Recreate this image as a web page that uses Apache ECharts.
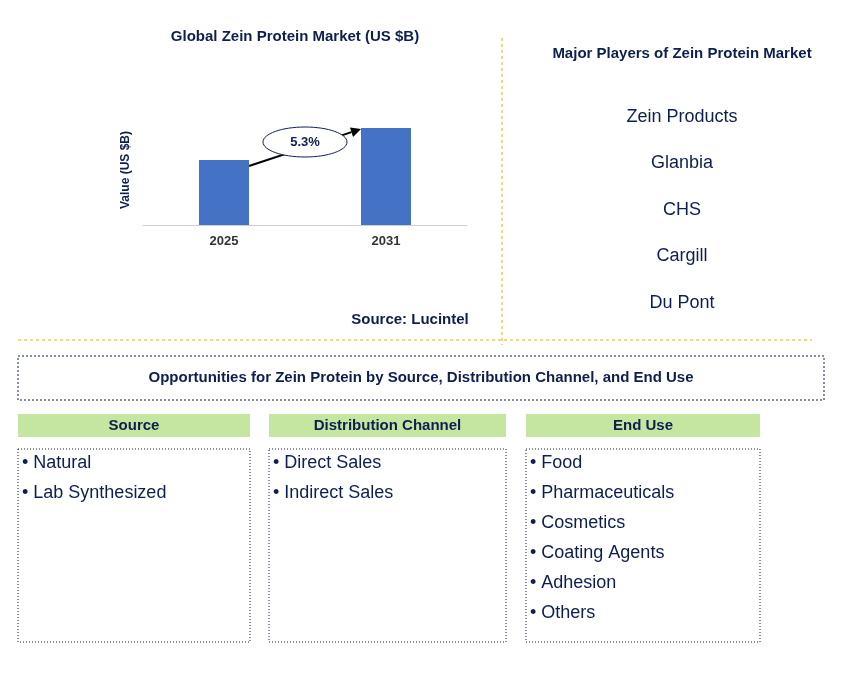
<!DOCTYPE html>
<html><head><meta charset="utf-8">
<script src="https://cdn.jsdelivr.net/npm/echarts@6/dist/echarts.min.js"></script>
<style>html,body{margin:0;padding:0;background:#fff}#c{width:853px;height:675px}</style>
</head><body><div id="c"></div>
<script>
const years = ['2025', '2031'];
const values = [0.65, 0.97];
const cagrLabel = '5.3%';
const players = ['Zein Products', 'Glanbia', 'CHS', 'Cargill', 'Du Pont'];
const sourceItems = ['Natural', 'Lab Synthesized'];
const channelItems = ['Direct Sales', 'Indirect Sales'];
const endUseItems = ['Food', 'Pharmaceuticals', 'Cosmetics', 'Coating Agents', 'Adhesion', 'Others'];

const F = 'Liberation Sans, Arial, sans-serif';
const navy = '#0d1f4f';
const gold = '#e8b000';
const chart = echarts.init(document.getElementById('c'));
const g = [];
function txt(x, y, t, size, weight, align) {
  g.push({type:'text', x, y, style:{text:t, font:(weight||'normal')+' '+size+'px '+F, fill:navy, textAlign:align||'center', textVerticalAlign:'middle'}});
}
txt(295, 37, 'Global Zein Protein Market (US $B)', 15, 'bold');
txt(682, 54, 'Major Players of Zein Protein Market', 15, 'bold');
players.forEach((p, i) => txt(682, 117 + i * 46.5, p, 18));
txt(410, 320, 'Source: Lucintel', 15, 'bold');
g.push({type:'text', x:126, y:170, rotation:Math.PI/2, style:{text:'Value (US $B)', font:'bold 12px '+F, fill:navy, textAlign:'center', textVerticalAlign:'middle'}});
g.push({type:'line', shape:{x1:502,y1:38,x2:502,y2:345}, style:{stroke:gold, lineDash:[3,3], lineWidth:1}});
g.push({type:'line', shape:{x1:18,y1:340,x2:812,y2:340}, style:{stroke:gold, lineDash:[3,3], lineWidth:1}});
g.push({type:'rect', shape:{x:18,y:356,width:806,height:44}, style:{fill:'none', stroke:navy, lineDash:[2,2], lineWidth:1}});
txt(421, 378, 'Opportunities for Zein Protein by Source, Distribution Channel, and End Use', 15, 'bold');
const cols = [[18,232,'Source',sourceItems],[269,237,'Distribution Channel',channelItems],[526,234,'End Use',endUseItems]];
cols.forEach(([x,w,h,items]) => {
  g.push({type:'rect', shape:{x,y:414,width:w,height:23}, style:{fill:'#c5e6a0'}});
  txt(x + w/2, 425.5, h, 15, 'bold');
  g.push({type:'rect', shape:{x,y:449,width:w,height:193}, style:{fill:'none', stroke:navy, lineDash:[1,2], lineWidth:1}});
  items.forEach((it, i) => txt(x + 4, 463 + i * 30, '• ' + it, 18, 'normal', 'left'));
});
chart.setOption({
  animation:false,
  grid:{left:143, right:386, top:100, bottom:450},
  xAxis:{type:'category', data:years, axisTick:{show:false}, axisLine:{lineStyle:{color:'#d0d0d0'}},
    axisLabel:{color:'#333', fontFamily:F, fontWeight:'bold', fontSize:13, margin:10}},
  yAxis:{type:'value', min:0, max:1.25, show:false},
  series:[{type:'bar', data:values, barWidth:50, itemStyle:{color:'#4472c4'}}],
  graphic:g
});
// arrow and ellipse from axis coordinates
const p1 = chart.convertToPixel({seriesIndex:0}, [0, values[0]]);
const p2 = chart.convertToPixel({seriesIndex:0}, [1, values[1]]);
const x1 = p1[0] + 25, y1 = p1[1] + 6, x2 = p2[0] - 25, y2 = p2[1] + 1;
const ang = Math.atan2(y2 - y1, x2 - x1);
const ah = 10, aw = 5;
const bx = x2 - ah*Math.cos(ang), by = y2 - ah*Math.sin(ang);
g.push({type:'line', shape:{x1,y1,x2:bx,y2:by}, style:{stroke:'#000', lineWidth:2}});
g.push({type:'polygon', shape:{points:[[x2,y2],[bx - aw*Math.sin(ang), by + aw*Math.cos(ang)],[bx + aw*Math.sin(ang), by - aw*Math.cos(ang)]]}, style:{fill:'#000'}});
g.push({type:'ellipse', shape:{cx:305, cy:142, rx:42, ry:15}, style:{fill:'#fff', stroke:navy, lineWidth:1}});
txt(305, 142, cagrLabel, 13, 'bold');
chart.setOption({graphic:g}, {replaceMerge:['graphic']});
</script></body></html>
